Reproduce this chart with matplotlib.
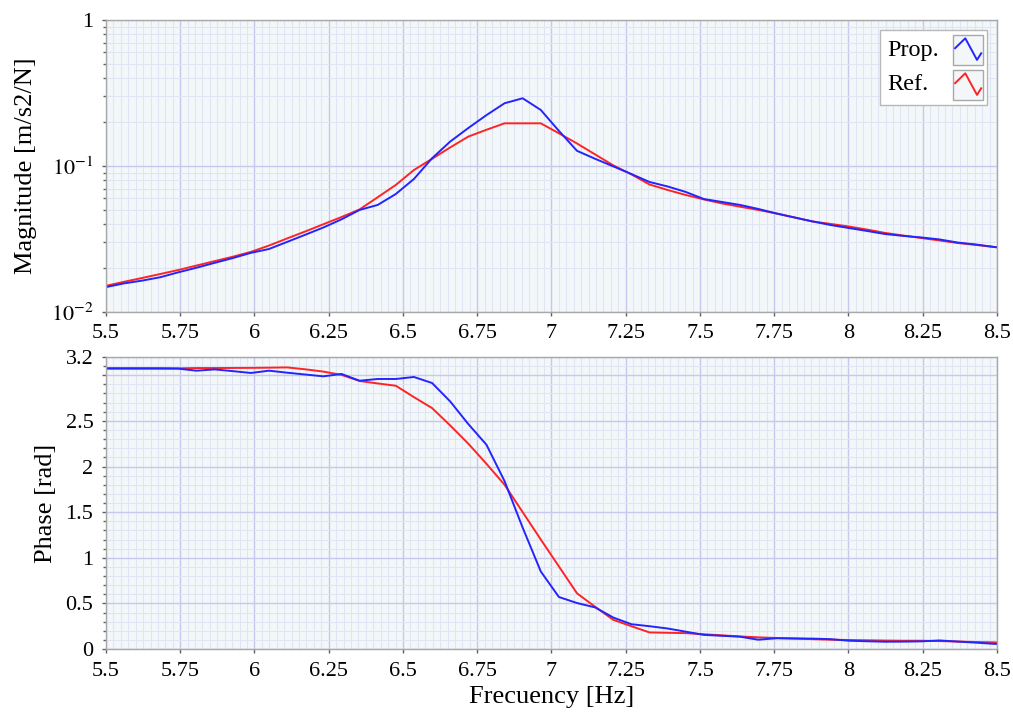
import matplotlib
matplotlib.use("Agg")
import matplotlib.pyplot as plt
from matplotlib.ticker import MultipleLocator, LogLocator, FixedLocator, NullFormatter
from matplotlib.patches import Rectangle

plt.rcParams['font.family'] = ['Liberation Serif', 'DejaVu Serif']
plt.rcParams['mathtext.fontset'] = 'stix'

# frequency axis [Hz]
freq = [5.5, 5.561, 5.622, 5.683, 5.744, 5.805, 5.866, 5.927, 5.988, 6.049,
        6.11, 6.171, 6.232, 6.293, 6.354, 6.415, 6.476, 6.537, 6.598, 6.659,
        6.72, 6.781, 6.842, 6.903, 6.964, 7.025, 7.086, 7.147, 7.208, 7.269,
        7.33, 7.391, 7.452, 7.513, 7.574, 7.635, 7.696, 7.757, 7.818, 7.879,
        7.94, 8.001, 8.062, 8.123, 8.184, 8.245, 8.306, 8.367, 8.428, 8.489, 8.55]

# magnitude [m/s2/N]
mag_prop = [0.0148, 0.0157, 0.0164, 0.0173, 0.0187, 0.0201, 0.0217, 0.0234, 0.0254, 0.0270,
            0.0302, 0.0338, 0.0379, 0.0431, 0.0500, 0.0541, 0.0643, 0.0815, 0.113, 0.147,
            0.182, 0.223, 0.269, 0.291, 0.242, 0.174, 0.127, 0.112, 0.0994, 0.0881,
            0.0777, 0.0724, 0.0664, 0.0594, 0.0567, 0.0541, 0.0508, 0.0473, 0.0444, 0.0417,
            0.0394, 0.0376, 0.0359, 0.0342, 0.0332, 0.0324, 0.0314, 0.0299, 0.0290, 0.0279, 0.0270]
mag_ref = [0.0151, 0.0161, 0.0171, 0.0182, 0.0194, 0.0208, 0.0223, 0.0239, 0.0258, 0.0285,
           0.0319, 0.0356, 0.0399, 0.0447, 0.0504, 0.0611, 0.0742, 0.0939, 0.112, 0.134,
           0.159, 0.177, 0.196, 0.196, 0.196, 0.1675, 0.1426, 0.120, 0.101, 0.0876,
           0.0747, 0.0685, 0.0633, 0.0590, 0.0554, 0.0526, 0.0500, 0.0473, 0.0444, 0.0417,
           0.0401, 0.0385, 0.0367, 0.0348, 0.0334, 0.0321, 0.0309, 0.0297, 0.0288, 0.0279, 0.0270]

# phase [rad]
ph_prop = [3.072, 3.072, 3.072, 3.072, 3.072, 3.050, 3.064, 3.045, 3.025, 3.050,
           3.028, 3.008, 2.988, 3.014, 2.940, 2.959, 2.959, 2.981, 2.915, 2.713,
           2.465, 2.239, 1.84, 1.33, 0.85, 0.57, 0.504, 0.456, 0.345, 0.272,
           0.25, 0.225, 0.19, 0.155, 0.145, 0.135, 0.102, 0.118, 0.116, 0.114,
           0.108, 0.091, 0.085, 0.080, 0.081, 0.084, 0.094, 0.082, 0.070, 0.057, 0.05]
ph_ref = [3.079, 3.079, 3.079, 3.079, 3.076, 3.079, 3.079, 3.080, 3.081, 3.083,
          3.086, 3.065, 3.040, 3.004, 2.937, 2.91, 2.885, 2.76, 2.64, 2.45,
          2.25, 2.03, 1.80, 1.50, 1.20, 0.905, 0.61, 0.463, 0.32, 0.25,
          0.182, 0.178, 0.174, 0.162, 0.150, 0.138, 0.128, 0.121, 0.115, 0.108,
          0.102, 0.099, 0.096, 0.093, 0.091, 0.091, 0.087, 0.082, 0.077, 0.073, 0.07]

xticks = [5.5, 5.75, 6, 6.25, 6.5, 6.75, 7, 7.25, 7.5, 7.75, 8, 8.25, 8.5]
xticklabels = ['5.5', '5.75', '6', '6.25', '6.5', '6.75', '7', '7.25', '7.5', '7.75', '8', '8.25', '8.5']
legend_labels = ['Prop.', 'Ref.']

BG = '#f3f7f9'
MAJ = '#c6c8ec'
MIN = '#e0e5f3'
SPINE = '#a8a8a8'
BLUE = '#2424ff'
RED = '#ff2424'

fig = plt.figure(figsize=(10.13, 7.17), dpi=100)
ax1 = fig.add_axes([0.1046, 0.5649, 0.8796, 0.4072])
ax2 = fig.add_axes([0.1046, 0.0948, 0.8796, 0.4073])

for ax in (ax1, ax2):
    ax.set_facecolor(BG)
    for s in ax.spines.values():
        s.set_color(SPINE)
        s.set_linewidth(1)
    ax.set_xlim(5.5, 8.5)
    ax.set_xticks(xticks)
    ax.set_xticklabels(xticklabels)
    ax.xaxis.set_minor_locator(MultipleLocator(0.025))
    ax.grid(which='major', color=MAJ, lw=1)
    ax.grid(which='minor', color=MIN, lw=0.8)
    ax.set_axisbelow(True)
    ax.tick_params(which='major', direction='out', length=3, width=1,
                   color='#606060', labelsize=16, pad=6)
    ax.tick_params(axis='x', which='minor', length=0)
    ax.tick_params(axis='y', which='minor', direction='out', length=2,
                   width=1, color='#606060')

# magnitude
ax1.plot(freq, mag_ref, color=RED, lw=1.4)
ax1.plot(freq, mag_prop, color=BLUE, lw=1.4)
ax1.set_yscale('log')
ax1.set_ylim(0.01, 1)
ax1.yaxis.set_major_locator(FixedLocator([0.01, 0.1, 1]))
ax1.set_yticklabels([r'$10^{-2}$', r'$10^{-1}$', '1'])
ax1.yaxis.set_minor_locator(LogLocator(base=10, subs=[2, 3, 4, 5, 6, 7, 8, 9]))
ax1.yaxis.set_minor_formatter(NullFormatter())
ax1.set_ylabel('Magnitude [m/s2/N]', fontsize=19)
ax1.yaxis.set_label_coords(-0.077, 0.5)

# legend drawn by hand: text left, framed zigzag swatch right
T = ax1.transAxes
ax1.add_patch(Rectangle((0.8687, 0.7089), 0.1201, 0.2569, transform=T,
                        facecolor='white', edgecolor='#b8b8b8', lw=1, zorder=5))
zig_x = [0.07, 0.41, 0.80, 0.94]
zig_y = [0.56, 0.89, 0.17, 0.39]
for lab, col, ytop in zip(legend_labels, [BLUE, RED], [0.9486, 0.8288]):
    bx, bw, bh = 0.9506, 0.0337, 0.1027
    by = ytop - bh
    ax1.add_patch(Rectangle((bx, by), bw, bh, transform=T, facecolor=BG,
                            edgecolor=SPINE, lw=1, zorder=6))
    ax1.plot([bx + bw * v for v in zig_x], [by + bh * v for v in zig_y],
             color=col, lw=1.4, transform=T, zorder=7, clip_on=False)
    ax1.text(0.8765, by + bh / 2, lab, transform=T, fontsize=17.5,
             ha='left', va='center', zorder=7)

# phase
ax2.plot(freq, ph_ref, color=RED, lw=1.4)
ax2.plot(freq, ph_prop, color=BLUE, lw=1.4)
ax2.set_ylim(0, 3.2)
ax2.set_yticks([0, 0.5, 1, 1.5, 2, 2.5, 3, 3.2])
ax2.set_yticklabels(['0', '0.5', '1', '1.5', '2', '2.5', '', '3.2'])
ax2.yaxis.set_minor_locator(MultipleLocator(0.1))
ax2.set_ylabel('Phase [rad]', fontsize=19)
ax2.yaxis.set_label_coords(-0.055, 0.5)
ax2.set_xlabel('Frecuency [Hz]', fontsize=19)
ax2.xaxis.set_label_coords(0.5, -0.125)

fig.savefig('out.png', dpi=100)
